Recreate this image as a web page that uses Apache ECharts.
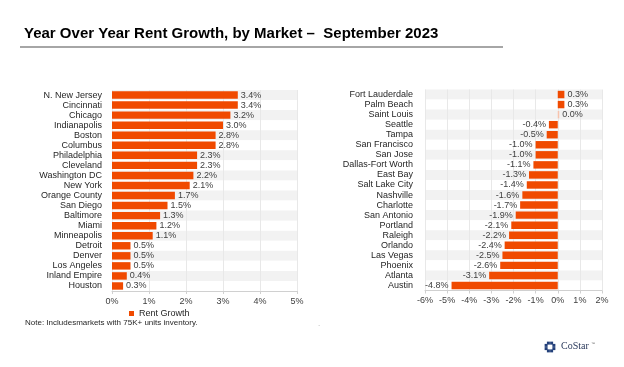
<!DOCTYPE html>
<html><head><meta charset="utf-8">
<script src="https://cdn.jsdelivr.net/npm/echarts@6/dist/echarts.min.js"></script>
<style>html,body{margin:0;padding:0;background:#fff}#c{width:624px;height:367px}</style>
</head><body><div id="c"></div>
<script>
var leftCats = ['N. New Jersey','Cincinnati','Chicago','Indianapolis','Boston','Columbus','Philadelphia','Cleveland','Washington DC','New York','Orange County','San Diego','Baltimore','Miami','Minneapolis','Detroit','Denver','Los Angeles','Inland Empire','Houston'];
var leftVals = [3.4,3.4,3.2,3.0,2.8,2.8,2.3,2.3,2.2,2.1,1.7,1.5,1.3,1.2,1.1,0.5,0.5,0.5,0.4,0.3];
var rightCats = ['Fort Lauderdale','Palm Beach','Saint Louis','Seattle','Tampa','San Francisco','San Jose','Dallas-Fort Worth','East Bay','Salt Lake City','Nashville','Charlotte','San Antonio','Portland','Raleigh','Orlando','Las Vegas','Phoenix','Atlanta','Austin'];
var rightVals = [0.3,0.3,0.0,-0.4,-0.5,-1.0,-1.0,-1.1,-1.3,-1.4,-1.6,-1.7,-1.9,-2.1,-2.2,-2.4,-2.5,-2.6,-3.1,-4.8];
var leftTicks = [0,5,1];   // min, max, interval
var rightTicks = [-6,2,1];
var titleText = 'Year Over Year Rent Growth, by Market \u2013  September 2023';
var seriesName = 'Rent Growth';
var noteText = 'Note: Includesmarkets with 75K+ units inventory.';

var BAR = '#f04a00';
var FONT = 'Arial, "Liberation Sans", sans-serif';
var chart = echarts.init(document.getElementById('c'), null, {renderer:'canvas'});

function mkData(vals){
  return vals.map(function(v){
    var d = {value: v, label: {position: v < 0 ? 'left' : 'right'}};
    if (v === 0) d.itemStyle = {color: '#f7c3ad'};
    return d;
  });
}
function xAxis(idx, t){
  return {gridIndex: idx, type:'value', min:t[0], max:t[1], interval:t[2],
    axisLine:{show:true, lineStyle:{color:'#d0d0d0'}},
    axisTick:{show:true, length:3, lineStyle:{color:'#d0d0d0'}},
    splitLine:{show:true, lineStyle:{color:'#e8e8e8', width:1}},
    axisLabel:{formatter:'{value}%', fontSize:9, color:'#404040', fontFamily:FONT, margin:6}};
}
function yAxis(idx, cats, margin){
  return {gridIndex: idx, type:'category', data:cats, inverse:true,
    axisLine:{show:false}, axisTick:{show:false},
    splitArea:{show:true, areaStyle:{color:['#f2f2f2','#ffffff']}},
    axisLabel:{fontSize:9, color:'#262626', fontFamily:FONT, margin:margin, interval:0}};
}
var ring = [];
for (var i=0;i<8;i++){
  var a = i*Math.PI/4 + Math.PI/8;
  ring.push({type:'rect', x:550+Math.cos(a)*4.2-1.5, y:347+Math.sin(a)*4.2-1.5,
    shape:{width:3,height:3}, style:{fill:'#23407a'}});
}
chart.setOption({
  animation:false,
  textStyle:{fontFamily:FONT},
  title:{text:titleText, left:19, top:21, textStyle:{fontSize:15, fontWeight:'bold', color:'#000', fontFamily:FONT}},
  legend:{data:[seriesName], left:124, top:304, icon:'rect', itemWidth:5, itemHeight:5, itemGap:3,
    textStyle:{fontSize:9, color:'#262626', fontFamily:FONT}},
  grid:[{left:112, top:90, width:185, height:201, containLabel:false},
        {left:425, top:89.5, width:177, height:201, containLabel:false}],
  xAxis:[xAxis(0,leftTicks), xAxis(1,rightTicks)],
  yAxis:[yAxis(0,leftCats,10), yAxis(1,rightCats,12)],
  series:[
    {name:seriesName, type:'bar', xAxisIndex:0, yAxisIndex:0, data:mkData(leftVals), barCategoryGap:'26%',
     itemStyle:{color:BAR}, label:{show:true, formatter:function(p){return p.value.toFixed(1)+'%';}, fontSize:9, color:'#404040', distance:3}},
    {name:seriesName, type:'bar', xAxisIndex:1, yAxisIndex:1, data:mkData(rightVals), barCategoryGap:'26%', barMinHeight:1.5,
     itemStyle:{color:BAR}, label:{show:true, formatter:function(p){return p.value.toFixed(1)+'%';}, fontSize:9, color:'#404040', distance:3}}
  ],
  graphic:[
    {type:'line', shape:{x1:20,y1:47,x2:503,y2:47}, style:{stroke:'#a6a6a6', lineWidth:2}},
    {type:'text', left:25, top:319, style:{text:noteText, fontSize:8, fill:'#262626', fontFamily:FONT}},
    {type:'text', left:318, top:320, style:{text:'.', fontSize:8, fill:'#aaaaaa', fontFamily:FONT}},
    {type:'group', children: ring.concat([
      {type:'text', x:561, y:341, style:{text:'CoStar', fontSize:10, fill:'#2b3a5c', fontFamily:'"Liberation Serif","DejaVu Serif",serif'}},
      {type:'text', x:591, y:342, style:{text:'\u2122', fontSize:4, fill:'#666', fontFamily:FONT}}
    ])}
  ]
});
</script></body></html>
